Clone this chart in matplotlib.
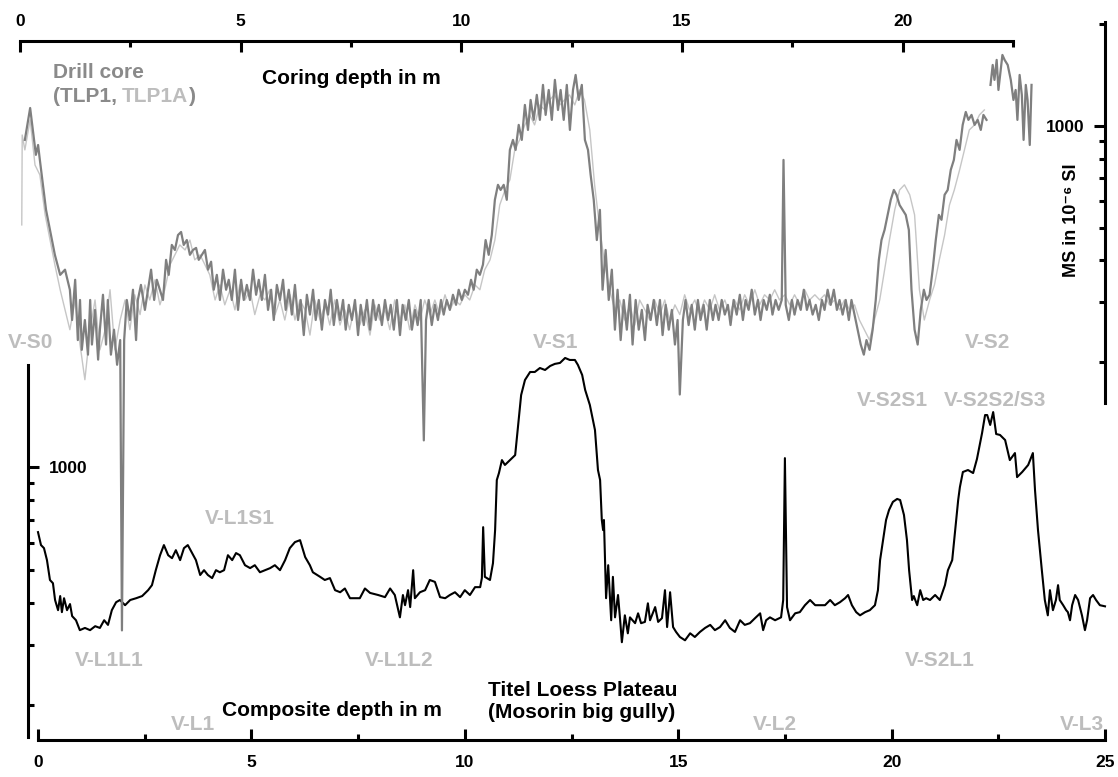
import numpy as np
import matplotlib
matplotlib.use('Agg')
import matplotlib.pyplot as plt
from matplotlib.ticker import FixedLocator, FuncFormatter, NullFormatter

plt.rcParams['font.family'] = ['Liberation Sans', 'DejaVu Sans']
plt.rcParams['font.weight'] = 'bold'

# ---------------- data ----------------
# Composite profile (Mosorin big gully), depth in m, MS in 1e-6 SI
comp_depth = [0.00, 0.07, 0.14, 0.21, 0.28, 0.35, 0.40, 0.47, 0.52, 0.56, 0.61, 0.68, 0.75, 0.80, 0.89, 0.98,
              1.10, 1.22, 1.34, 1.45, 1.55, 1.64, 1.73, 1.83, 1.92, 2.04, 2.16, 2.30, 2.44, 2.58, 2.67, 2.76,
              2.86, 2.95, 3.05, 3.14, 3.23, 3.33, 3.42, 3.51, 3.61, 3.70, 3.80, 3.89, 3.98, 4.08, 4.17, 4.26,
              4.36, 4.45, 4.55, 4.64, 4.73, 4.85, 4.97, 5.08, 5.20, 5.32, 5.44, 5.55, 5.67, 5.79, 5.90, 6.02,
              6.14, 6.26, 6.37, 6.44, 6.61, 6.72, 6.84, 6.96, 7.08, 7.19, 7.31, 7.54, 7.66, 7.78, 7.97, 8.13,
              8.25, 8.36, 8.48, 8.55, 8.60, 8.67, 8.72, 8.79, 8.83, 8.95, 9.07, 9.18, 9.30, 9.42, 9.54, 9.65,
              9.77, 9.89, 10.00, 10.12, 10.24, 10.36, 10.40, 10.43, 10.47, 10.59, 10.66, 10.71, 10.75, 10.80,
              10.87, 10.94, 11.06, 11.18, 11.25, 11.32, 11.41, 11.53, 11.64, 11.76, 11.88, 12.00, 12.11, 12.23,
              12.35, 12.46, 12.58, 12.65, 12.75, 12.82, 12.93, 13.05, 13.12, 13.17, 13.21, 13.24, 13.26, 13.31,
              13.36, 13.43, 13.47, 13.52, 13.59, 13.64, 13.68, 13.75, 13.82, 13.87, 13.99, 14.06, 14.13, 14.22,
              14.29, 14.34, 14.46, 14.53, 14.62, 14.69, 14.74, 14.81, 14.88, 14.95, 15.04, 15.16, 15.28, 15.39,
              15.51, 15.63, 15.75, 15.86, 15.98, 16.10, 16.21, 16.33, 16.45, 16.56, 16.68, 16.80, 16.92, 16.99,
              17.06, 17.15, 17.27, 17.41, 17.46, 17.50, 17.55, 17.62, 17.74, 17.85, 17.97, 18.09, 18.21, 18.32,
              18.44, 18.56, 18.67, 18.79, 18.91, 18.98, 19.07, 19.17, 19.26, 19.38, 19.49, 19.61, 19.68, 19.73,
              19.80, 19.87, 19.94, 20.03, 20.13, 20.20, 20.29, 20.36, 20.41, 20.48, 20.52, 20.60, 20.67, 20.74,
              20.81, 20.90, 21.02, 21.13, 21.25, 21.32, 21.42, 21.49, 21.56, 21.60, 21.67, 21.79, 21.91, 22.00,
              22.12, 22.19, 22.24, 22.31, 22.38, 22.45, 22.54, 22.66, 22.77, 22.89, 22.94, 23.06, 23.20, 23.31,
              23.36, 23.43, 23.52, 23.59, 23.66, 23.71, 23.78, 23.85, 23.90, 23.94, 24.02, 24.09, 24.13, 24.18,
              24.23, 24.30, 24.37, 24.46, 24.53, 24.58, 24.65, 24.72, 24.79, 24.88, 25.00]
comp_ms = [644, 590, 578, 533, 466, 456, 407, 380, 418, 375, 412, 380, 396, 365, 355, 332,
           337, 332, 341, 337, 355, 344, 380, 401, 407, 393, 407, 412, 418, 435, 450, 498,
           551, 590, 551, 540, 570, 533, 578, 590, 559, 533, 482, 498, 482, 472, 498, 491,
           498, 551, 533, 559, 551, 515, 505, 515, 491, 498, 505, 515, 498, 533, 578, 602,
           610, 544, 515, 491, 476, 466, 472, 435, 429, 440, 412, 412, 440, 427, 421, 415,
           440, 421, 362, 421, 393, 435, 388, 498, 412, 429, 435, 466, 460, 415, 412, 421,
           429, 415, 435, 421, 444, 444, 472, 666, 476, 466, 522, 653, 916, 960,
           1048, 1014, 1048, 1084, 1329, 1627, 1801, 1901, 1901, 1953, 1927, 1980, 2008, 2021,
           2090, 2062, 2062, 1994, 1863, 1684, 1521, 1284, 980, 916, 699, 653, 699, 412,
           515, 355, 476, 362, 421, 355, 306, 367, 325, 362, 348, 372, 348, 351,
           398, 355, 388, 351, 360, 435, 339, 429, 339, 328, 317, 310, 325, 317,
           328, 337, 344, 332, 339, 355, 337, 328, 355, 344, 348, 360, 372, 332,
           355, 362, 355, 362, 407, 1062, 388, 355, 372, 375, 393, 407, 393, 393,
           393, 407, 393, 401, 412, 421, 393, 375, 367, 375, 380, 393, 435, 533,
           610, 699, 748, 790, 806, 800, 723, 610, 498, 407, 418, 393, 435, 407,
           412, 407, 421, 407, 450, 498, 533, 653, 800, 873, 967, 980, 960, 1056,
           1259, 1421, 1421, 1329, 1450, 1250, 1242, 1200, 1048, 1099, 934, 967, 1014, 1099,
           856, 653, 498, 407, 367, 435, 380, 407, 450, 407, 393, 380, 375, 355,
           393, 421, 407, 367, 332, 355, 412, 421, 407, 393, 390]

# Drill core TLP1 (coring depth in m, MS in 1e-6 SI); NaN marks a gap
tlp1_depth = [0.11, 0.23, 0.29, 0.36, 0.41, 0.45, 0.52, 0.59, 0.68, 0.79, 0.91, 1.02, 1.13, 1.18, 1.25, 1.31,
              1.36, 1.40, 1.47, 1.54, 1.59, 1.63, 1.70, 1.77, 1.81, 1.88, 1.95, 1.99, 2.06, 2.13, 2.20, 2.27,
              2.31, 2.36, 2.42, 2.49, 2.56, 2.63, 2.67, 2.74, 2.83, 2.90, 2.97, 3.04, 3.10, 3.17, 3.24, 3.31,
              3.37, 3.44, 3.51, 3.58, 3.65, 3.71, 3.78, 3.85, 3.92, 3.99, 4.05, 4.12, 4.19, 4.26, 4.33, 4.39,
              4.46, 4.53, 4.60, 4.67, 4.73, 4.80, 4.87, 4.94, 5.01, 5.07, 5.14, 5.21, 5.28, 5.35, 5.41, 5.48,
              5.55, 5.62, 5.69, 5.75, 5.82, 5.89, 5.96, 6.02, 6.09, 6.16, 6.23, 6.30, 6.36, 6.43, 6.50, 6.57,
              6.64, 6.70, 6.77, 6.84, 6.91, 6.98, 7.04, 7.11, 7.18, 7.25, 7.32, 7.38, 7.45, 7.52, 7.59, 7.66,
              7.72, 7.79, 7.86, 7.93, 8.00, 8.06, 8.13, 8.20, 8.27, 8.34, 8.40, 8.47, 8.54, 8.61, 8.67, 8.74,
              8.81, 8.88, 8.95, 9.01, 9.08, 9.15, 9.20, 9.26, 9.33, 9.40, 9.47, 9.54, 9.60, 9.67, 9.74, 9.81,
              9.88, 9.94, 10.01, 10.08, 10.15, 10.22, 10.28, 10.35, 10.42, 10.49, 10.55, 10.62, 10.69, 10.76,
              10.83, 10.89, 10.96, 11.03, 11.10, 11.17, 11.23, 11.30, 11.37, 11.44, 11.51, 11.57, 11.64, 11.71,
              11.78, 11.85, 11.91, 11.98, 12.05, 12.12, 12.19, 12.25, 12.32, 12.39, 12.46, 12.53, 12.59, 12.66,
              12.73, 12.80, 12.87, 12.93, 13.00, 13.07, 13.14, 13.20, 13.27, 13.34, 13.41, 13.48, 13.54, 13.61,
              13.68, 13.75, 13.82, 13.88, 13.95, 14.02, 14.09, 14.16, 14.22, 14.29, 14.36, 14.43, 14.50, 14.56,
              14.63, 14.70, 14.77, 14.84, 14.90, 14.95, 15.02, 15.08, 15.15, 15.22, 15.29, 15.36, 15.42, 15.49,
              15.56, 15.63, 15.70, 15.76, 15.83, 15.90, 15.97, 16.04, 16.10, 16.17, 16.24, 16.31, 16.38, 16.44,
              16.51, 16.58, 16.65, 16.72, 16.78, 16.85, 16.92, 16.99, 17.05, 17.12, 17.19, 17.26, 17.30, 17.35,
              17.42, 17.49, 17.55, 17.62, 17.69, 17.76, 17.83, 17.89, 17.96, 18.03, 18.10, 18.17, 18.23, 18.30,
              18.37, 18.44, 18.51, 18.57, 18.64, 18.71, 18.78, 18.84, 18.91, 18.98, 19.05, 19.12, 19.18, 19.25,
              19.32, 19.39, 19.46, 19.52, 19.59, 19.66, 19.73, 19.80, 19.86, 19.93, 20.00, 20.07, 20.14, 20.20,
              20.27, 20.34, 20.41, 20.48, 20.54, 20.61, 20.68, 20.75, 20.82, 20.88, 20.95, 21.02, 21.09, 21.16,
              21.22, 21.29, 21.36, 21.43, 21.49, 21.56, 21.63, 21.70, 21.77, 21.83, 21.90, 21.95,
              21.99, 22.04, 22.08, 22.13, 22.17, 22.22, 22.26, 22.31, 22.38, 22.45, 22.51, 22.56, 22.60, 22.65,
              22.70, 22.74, 22.79, 22.83, 22.88, 22.92]
tlp1_ms = [909, 1130, 973, 821, 878, 793, 669, 564, 492, 415, 362, 375, 327, 266, 350, 232,
           305, 217, 266, 210, 305, 225, 285, 203, 249, 316, 225, 305, 210, 249, 196, 232,
           32, 232, 305, 266, 327, 232, 305, 338, 285, 327, 375, 305, 350, 327, 305, 401,
           362, 444, 429, 475, 485, 444, 459, 415, 429, 435, 401, 415, 429, 375, 396, 327,
           362, 305, 375, 327, 350, 305, 375, 285, 350, 305, 338, 305, 375, 316, 350, 305,
           362, 285, 327, 266, 338, 305, 350, 285, 327, 276, 338, 266, 305, 240, 316, 276,
           327, 266, 305, 249, 305, 276, 327, 257, 305, 266, 305, 249, 295, 266, 305, 240,
           295, 257, 305, 249, 305, 266, 295, 257, 305, 266, 295, 249, 305, 240, 295, 266,
           305, 249, 285, 257, 305, 117, 266, 305, 257, 295, 266, 305, 276, 305, 285, 316,
           295, 327, 305, 327, 316, 350, 327, 375, 362, 388, 459, 415, 475, 604,
           669, 646, 669, 604, 849, 909, 849, 1007, 909, 1154, 973, 1194, 1042, 1236,
           1042, 1323, 1078, 1278, 1042, 1369, 1115, 1278, 1042, 1323, 973, 1278, 1416, 1194,
           1323, 909, 849, 716, 604, 459, 564, 327, 429, 305, 375, 249, 327, 232,
           305, 249, 316, 225, 305, 249, 285, 232, 295, 266, 305, 257, 305, 240,
           295, 249, 285, 225, 266, 160, 266, 305, 257, 295, 249, 305, 266, 295,
           249, 305, 266, 295, 266, 305, 276, 295, 257, 305, 276, 316, 266, 305,
           285, 327, 276, 305, 266, 305, 285, 316, 276, 305, 285, 305, 793, 295,
           266, 305, 276, 305, 285, 327, 285, 305, 276, 295, 266, 305, 285, 327,
           295, 327, 285, 305, 276, 305, 266, 305, 276, 249, 225, 210, 232, 217,
           249, 305, 401, 459, 492, 545, 604, 646, 625, 583, 564, 545, 492, 327,
           249, 225, 285, 327, 305, 316, 375, 459, 545, 527, 625, 646, 741, 793,
           909, 849, 1007, 1100, 1042, 1078, 1007, 1042, 973, 1078, 1042, np.nan,
           1323, 1516, 1369, 1569, 1278, 1465, 1623, 1569, 1516, 1369, 1194, 1278, 1042, 1416,
           1236, 909, 1323, 1194, 878, 1323]

# Drill core TLP1A
tlp1a_depth = [0.04, 0.05, 0.11, 0.23, 0.34, 0.45, 0.57, 0.68, 0.79, 0.91, 1.02, 1.13, 1.25, 1.36, 1.47, 1.59,
               1.70, 1.81, 1.93, 2.04, 2.15, 2.27, 2.38, 2.49, 2.60, 2.72, 2.83, 2.94, 3.06, 3.17, 3.28, 3.40,
               3.51, 3.62, 3.74, 3.85, 3.96, 4.08, 4.19, 4.30, 4.42, 4.53, 4.64, 4.76, 4.87, 4.98, 5.10, 5.21,
               5.32, 5.44, 5.55, 5.66, 5.78, 5.89, 6.00, 6.12, 6.23, 6.34, 6.46, 6.57, 6.68, 6.80, 6.91, 7.02,
               7.13, 7.25, 7.36, 7.47, 7.59, 7.70, 7.81, 7.93, 8.04, 8.15, 8.27, 8.38, 8.49, 8.61, 8.72, 8.83,
               8.95, 9.06, 9.17, 9.29, 9.40, 9.51, 9.63, 9.74, 9.85, 9.97, 10.08, 10.19, 10.31, 10.42, 10.53, 10.65,
               10.76, 10.87, 10.99, 11.10, 11.21, 11.32, 11.44, 11.55, 11.66, 11.78, 11.89, 12.00, 12.11, 12.23,
               12.34, 12.45, 12.57, 12.68, 12.79, 12.91, 13.02, 13.14, 13.25, 13.36, 13.48, 13.59, 13.70, 13.82,
               13.93, 14.04, 14.16, 14.27, 14.38, 14.50, 14.61, 14.72, 14.84, 14.95, 15.06, 15.17, 15.29, 15.40,
               15.51, 15.63, 15.74, 15.85, 15.97, 16.08, 16.19, 16.31, 16.42, 16.53, 16.65, 16.76, 16.87, 16.99,
               17.10, 17.21, 17.33, 17.44, 17.55, 17.67, 17.78, 17.89, 18.01, 18.12, 18.23, 18.34, 18.46, 18.57,
               18.68, 18.80, 18.91, 19.02, 19.13, 19.25, 19.36, 19.48, 19.59, 19.70, 19.82, 19.93, 20.04, 20.16,
               20.27, 20.38, 20.49, 20.61, 20.72, 20.83, 20.95, 21.06, 21.17, 21.29, 21.40, 21.51, 21.63, 21.74,
               21.85]
tlp1a_ms = [509, 940, 849, 1042, 766, 716, 545, 459, 388, 327, 285, 249, 305, 225, 177, 249,
            305, 217, 249, 327, 217, 266, 305, 249, 316, 276, 338, 305, 350, 295, 327, 388,
            415, 444, 429, 459, 401, 415, 388, 362, 305, 338, 295, 327, 285, 338, 305, 327,
            276, 316, 305, 327, 276, 305, 266, 316, 266, 305, 285, 240, 305, 266, 295, 257,
            305, 257, 285, 249, 295, 257, 285, 240, 295, 266, 285, 249, 305, 266, 295, 249,
            295, 266, 305, 276, 305, 276, 316, 285, 305, 295, 316, 305, 338, 327, 375, 401,
            459, 583, 646, 692, 849, 909, 1007, 1078, 1007, 1154, 1115, 1194, 1236, 1154,
            1194, 1236, 1154, 1278, 1194, 973, 669, 492, 388, 327, 285, 305, 266, 295,
            257, 305, 285, 266, 305, 276, 305, 266, 295, 276, 316, 285, 305, 276,
            305, 285, 316, 285, 305, 276, 305, 285, 316, 295, 327, 295, 316, 305,
            327, 305, 316, 295, 316, 295, 327, 305, 316, 305, 316, 295, 305, 285,
            305, 285, 295, 266, 249, 232, 266, 305, 375, 459, 564, 646, 669, 625,
            545, 327, 266, 305, 338, 401, 475, 583, 646, 741, 849, 973, 1007, 1078,
            1115]

core_xticks = [0, 5, 10, 15, 20]
core_xminor = [2.5, 7.5, 12.5, 17.5, 22.5]
comp_xticks = [0, 5, 10, 15, 20, 25]
comp_xminor = [2.5, 7.5, 12.5, 17.5, 22.5]
ms_major = [1000]
ms_minor = [200, 300, 400, 500, 600, 700, 800, 900, 2000]

# ---------------- figure ----------------
W, H = 1118, 777
fig = plt.figure(figsize=(W / 100, H / 100), dpi=100)


def fx(px):
    return px / W


def fy(py):
    return 1 - py / H


LW = 2.2
TFS = 12.5
fmt = FuncFormatter(lambda v, p: f'{v:g}')

# Composite (lower) axes
axB = fig.add_axes([fx(38), fy(740), fx(1105) - fx(38), fy(365) - fy(740)])
axB.patch.set_alpha(0)
axB.set_yscale('log')
axB.set_xlim(0, 25)
axB.set_ylim(158, 1993)
axB.plot(comp_depth, comp_ms, color='black', lw=1.5, clip_on=False, zorder=3)
for s in ['top', 'right']:
    axB.spines[s].set_visible(False)
for s in ['left', 'bottom']:
    axB.spines[s].set_linewidth(LW)
axB.spines['left'].set_position(('axes', -10 / 1067))
axB.spines['left'].set_bounds(161, 1993)
axB.xaxis.set_major_locator(FixedLocator(comp_xticks))
axB.xaxis.set_minor_locator(FixedLocator(comp_xminor))
axB.xaxis.set_major_formatter(fmt)
axB.yaxis.set_major_locator(FixedLocator(ms_major))
axB.yaxis.set_minor_locator(FixedLocator(ms_minor))
axB.yaxis.set_major_formatter(fmt)
axB.yaxis.set_minor_formatter(NullFormatter())
axB.tick_params(which='both', direction='in', width=LW, labelsize=TFS)
axB.tick_params(which='major', length=8)
axB.tick_params(which='minor', length=4)
axB.tick_params(axis='x', which='major', pad=11)
axB.tick_params(axis='y', which='major', pad=-15)
for t in axB.yaxis.get_major_ticks():
    t.label1.set_horizontalalignment('left')

# Core (upper) axes
axA = fig.add_axes([fx(20), fy(403), fx(1013) - fx(20), fy(22) - fy(403)])
axA.patch.set_alpha(0)
axA.set_yscale('log')
axA.set_xlim(0, 22.5)
axA.set_ylim(151, 2032)
axA.plot(tlp1a_depth, tlp1a_ms, color='#c6c6c6', lw=1.0, clip_on=False, zorder=2)
axA.plot(tlp1_depth, tlp1_ms, color='#7f7f7f', lw=1.6, clip_on=False, zorder=3)
for s in ['left', 'bottom']:
    axA.spines[s].set_visible(False)
for s in ['top', 'right']:
    axA.spines[s].set_linewidth(LW)
axA.spines['top'].set_position(('axes', (403 - 41) / 381))
axA.spines['right'].set_position(('axes', 1085 / 993))
axA.xaxis.set_ticks_position('top')
axA.yaxis.set_ticks_position('right')
axA.xaxis.set_major_locator(FixedLocator(core_xticks))
axA.xaxis.set_minor_locator(FixedLocator(core_xminor))
axA.xaxis.set_major_formatter(fmt)
axA.yaxis.set_major_locator(FixedLocator(ms_major))
axA.yaxis.set_minor_locator(FixedLocator(ms_minor))
axA.yaxis.set_major_formatter(fmt)
axA.yaxis.set_minor_formatter(NullFormatter())
axA.tick_params(which='both', direction='in', width=LW, labelsize=TFS)
axA.tick_params(which='major', length=8)
axA.tick_params(which='minor', length=4)
axA.tick_params(axis='x', which='major', pad=9)
axA.tick_params(axis='y', which='major', pad=-15)
for t in axA.yaxis.get_major_ticks():
    t.label2.set_horizontalalignment('right')

# ---------------- texts ----------------
DARK = '#8a8a8a'
LIGHT = '#bdbdbd'
FS = 15


def ftext(px, py, s, color='black', **kw):
    return fig.text(fx(px), fy(py), s, color=color, fontsize=kw.pop('fontsize', FS),
                    fontweight='bold', va='center', ha=kw.pop('ha', 'left'), **kw)


ftext(53, 72, 'Drill core', DARK)
renderer = fig.canvas.get_renderer()
t1 = ftext(53, 97, '(TLP1,', DARK)
x1 = t1.get_window_extent(renderer).x1
t2 = fig.text((x1 + 5) / W, fy(97), 'TLP1A', color=LIGHT, fontsize=FS, fontweight='bold', va='center')
x2 = t2.get_window_extent(renderer).x1
fig.text((x2 + 1) / W, fy(97), ')', color=DARK, fontsize=FS, fontweight='bold', va='center')

ftext(262, 79, 'Coring depth in m')
ftext(222, 711, 'Composite depth in m')
ftext(488, 690, 'Titel Loess Plateau')
ftext(488, 712, '(Mosorin big gully)')
fig.text(fx(1072), fy(220), 'MS in 10⁻⁶ SI', rotation=90, fontsize=13, fontweight='bold',
         ha='center', va='center')

unit_labels = [('V-S0', 8, 343), ('V-S1', 533, 343), ('V-S2', 965, 343),
               ('V-S2S1', 857, 400), ('V-S2S2/S3', 944, 400), ('V-L1S1', 205, 519),
               ('V-L1L1', 75, 660), ('V-L1L2', 365, 661), ('V-S2L1', 905, 660),
               ('V-L1', 171, 724), ('V-L2', 753, 724), ('V-L3', 1060, 724)]
for s, px, py in unit_labels:
    ftext(px, py, s, LIGHT)

fig.savefig('out.png', dpi=100)
